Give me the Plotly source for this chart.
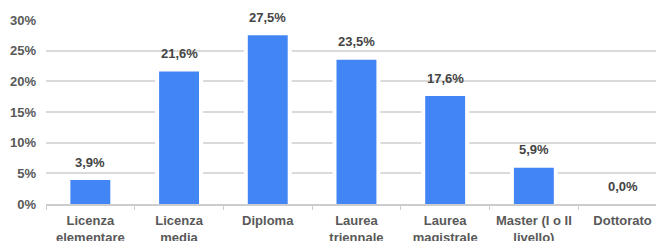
import plotly.graph_objects as go

categories = ["Licenza<br>elementare", "Licenza<br>media", "Diploma", "Laurea<br>triennale",
              "Laurea<br>magistrale", "Master (I o II<br>livello)", "Dottorato"]
values = [3.9, 21.6, 27.5, 23.5, 17.6, 5.9, 0.0]
labels = ["3,9%", "21,6%", "27,5%", "23,5%", "17,6%", "5,9%", "0,0%"]
y_ticks = [0, 5, 10, 15, 20, 25, 30]
y_tick_text = ["0%", "5%", "10%", "15%", "20%", "25%", "30%"]

font_family = "Liberation Sans, Arial, sans-serif"

fig = go.Figure()
# white halo behind bars (hides gridlines next to bars)
fig.add_trace(go.Bar(x=categories, y=values, width=0.54,
                     marker=dict(color="white", line=dict(width=0)),
                     hoverinfo="skip", showlegend=False))
fig.add_trace(go.Bar(x=categories, y=values, width=0.45,
                     marker=dict(color="#4285F4", line=dict(width=0)),
                     showlegend=False))

for c, v, t in zip(categories, values, labels):
    fig.add_annotation(x=c, y=v, text="<b>%s</b>" % t, showarrow=False,
                       yshift=18, font=dict(family=font_family, size=13, color="#444444"))

fig.update_layout(
    width=656, height=241,
    margin=dict(l=46, r=0, t=19.5, b=36.5, pad=0, autoexpand=False),
    paper_bgcolor="white", plot_bgcolor="white",
    barmode="overlay",
    font=dict(family=font_family, size=13, color="#595959"),
)
fig.update_xaxes(
    type="category", range=[-0.5, 6.377], automargin=False,
    tickvals=categories, ticktext=["<b>%s</b>" % c for c in categories],
    ticks="outside", tickson="boundaries", ticklen=4, tickcolor="#cccccc", tickwidth=1,
    showline=True, linecolor="#cccccc", linewidth=1.5,
    showgrid=False, tickfont=dict(size=13, color="#595959"),
    ticklabelstandoff=4,
)
fig.update_yaxes(
    range=[0, 30], automargin=False,
    tickvals=y_ticks, ticktext=["<b>%s</b>" % t for t in y_tick_text],
    showgrid=True, gridcolor="#dadada", gridwidth=1.5, zeroline=False,
    ticks="", ticklabelstandoff=9, tickfont=dict(size=13, color="#595959"),
)

fig.write_html(
    "out.html",
    config={"displayModeBar": False},
    post_script="document.body.style.margin='0';document.body.style.overflow='hidden';"
                "document.documentElement.style.overflow='hidden';",
)
